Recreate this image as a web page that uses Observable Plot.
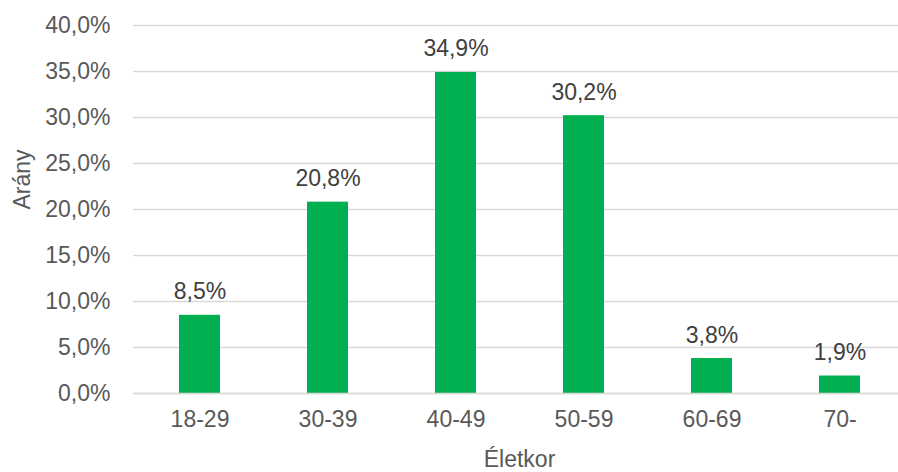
<!DOCTYPE html>
<html>
<head>
<meta charset="utf-8">
<script src="https://cdn.jsdelivr.net/npm/d3@7"></script>
<script src="https://cdn.jsdelivr.net/npm/@observablehq/plot@0.6"></script>
<style>
  html, body { margin: 0; padding: 0; background: #fff; overflow: hidden; }
  #chart { width: 898px; height: 472px; overflow: hidden; }
  #chart svg { max-width: none !important; }
</style>
</head>
<body>
<div id="chart"></div>
<script>
const categories = ["18-29", "30-39", "40-49", "50-59", "60-69", "70-"];
const values = [8.5, 20.8, 34.9, 30.2, 3.8, 1.9];
const yTicks = [0, 5, 10, 15, 20, 25, 30, 35, 40];
const xTitle = "Életkor";
const yTitle = "Arány";

const data = categories.map((c, i) => ({cat: c, val: values[i]}));
const fmt = v => v.toFixed(1).replace(".", ",") + "%";

const W = 905, H = 472;
const mL = 133, mR = 0, mT = 25, mB = 79;
const FS = 23;

const chart = Plot.plot({
  width: W,
  height: H,
  marginLeft: mL,
  marginRight: mR,
  marginTop: mT,
  marginBottom: mB,
  style: {fontFamily: "'Liberation Sans', Arial, sans-serif", fontSize: FS + "px", color: "#595959", background: "#fff", maxWidth: "none"},
  x: {domain: categories, paddingInner: 0.683, paddingOuter: 0.3415, label: null},
  y: {domain: [0, 40], label: null},
  marks: [
    Plot.ruleY(yTicks, {stroke: "#d9d9d9", strokeWidth: 1.4}),
    Plot.barY(data, {x: "cat", y: "val", fill: "#00b050"}),
    Plot.ruleY([0], {stroke: "#d9d9d9", strokeWidth: 1.6}),
    Plot.text(data, {x: "cat", y: "val", text: d => fmt(d.val), dy: -16, lineAnchor: "bottom", fill: "#404040", fontSize: FS}),
    Plot.axisY({ticks: yTicks, tickSize: 0, tickPadding: 23, tickFormat: v => v.toFixed(1).replace(".", ",") + "%", fill: "#595959", fontSize: FS, label: null}),
    Plot.axisX({tickSize: 0, tickPadding: 17, fill: "#595959", fontSize: FS, label: null}),
    Plot.text([xTitle], {frameAnchor: "bottom", dy: 73, lineAnchor: "bottom", fill: "#595959", fontSize: FS}),
    Plot.text([yTitle], {frameAnchor: "left", dx: -111, rotate: -90, fill: "#595959", fontSize: FS})
  ]
});
document.getElementById("chart").appendChild(chart);
</script>
</body>
</html>
